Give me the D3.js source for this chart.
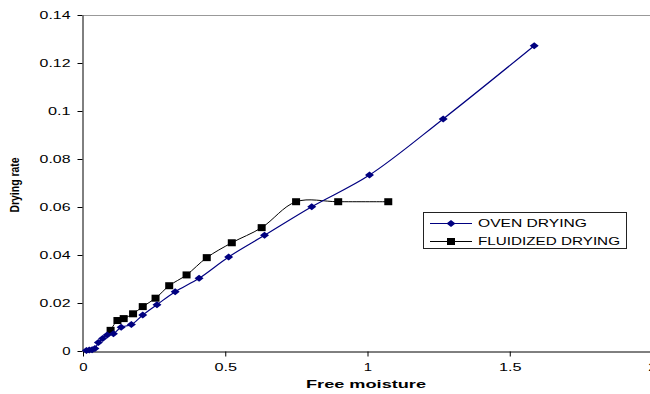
<!DOCTYPE html>
<html>
<head>
  <meta charset="UTF-8">
  <script src="https://d3js.org/d3.v7.min.js"></script>
  <style>
    body { margin:0; background:#fff; }
    text { font-family: Arial, "Liberation Sans", sans-serif; }
  </style>
</head>
<body>
  <svg width="650" height="394"></svg>
  <script>
    // values
    var ovenX = [0.012, 0.022, 0.032, 0.042, 0.054, 0.069, 0.085, 0.107, 0.134, 0.17,
                 0.21, 0.26, 0.324, 0.408, 0.512, 0.638, 0.804, 1.007, 1.266, 1.586];
    var ovenY = [0.0002, 0.0004, 0.0005, 0.001, 0.0035, 0.0052, 0.0067, 0.0072, 0.0099, 0.011,
                 0.015, 0.0193, 0.0247, 0.0303, 0.0392, 0.0482, 0.0601, 0.0733, 0.0967, 0.1272];
    var fluidX = [0.097, 0.121, 0.143, 0.176, 0.21, 0.255, 0.303, 0.364, 0.435, 0.523,
                  0.628, 0.749, 0.897, 1.073];
    var fluidY = [0.0086, 0.0127, 0.0135, 0.0155, 0.0185, 0.022, 0.0272, 0.0317, 0.0389, 0.0451,
                  0.0514, 0.0622, 0.0622, 0.0622];
    var xTicks = [0, 0.5, 1, 1.5, 2];
    var yTicks = [0, 0.02, 0.04, 0.06, 0.08, 0.1, 0.12, 0.14];
    var seriesNames = ["OVEN DRYING", "FLUIDIZED DRYING"];

    var svg = d3.select("svg");

    var x = d3.scaleLinear().domain([0, 2]).range([83, 652]);
    var y = d3.scaleLinear().domain([0, 0.14]).range([351, 15]);

    // rough width of the stretched labels
    function labelWidth(s) {
      var w = 0;
      for (var i = 0; i < s.length; i++) w += s[i] == "." ? 6 : 8.3;
      return w;
    }

    // top border of plot area
    svg.append("line")
      .attr("x1", 83).attr("x2", 650)
      .attr("y1", 15.5).attr("y2", 15.5)
      .attr("stroke", "#999").attr("stroke-width", 1);

    var xAxis = svg.append("g")
      .attr("transform", "translate(0,351.5)")
      .call(d3.axisBottom(x).tickValues(xTicks).tickSize(5).tickSizeOuter(0)
        .tickFormat(function(d) { return String(d); }));
    var yAxis = svg.append("g")
      .attr("transform", "translate(82.5,0)")
      .call(d3.axisLeft(y).tickValues(yTicks).tickSize(5).tickSizeOuter(0)
        .tickFormat(function(d) { return String(d); }));

    [xAxis, yAxis].forEach(function(g) {
      g.select(".domain").attr("stroke", "#000");
      g.selectAll(".tick line").attr("stroke", "#000");
      g.selectAll(".tick text")
        .attr("fill", "#000")
        .style("font-size", "11px")
        .attr("textLength", function(d) { return labelWidth(String(d)); })
        .attr("lengthAdjust", "spacingAndGlyphs");
    });
    xAxis.selectAll(".tick text").attr("y", 12);
    yAxis.selectAll(".tick text").attr("x", -12);

    // axis titles
    svg.append("text")
      .attr("x", 366).attr("y", 388)
      .attr("text-anchor", "middle")
      .style("font-size", "11px").style("font-weight", "bold")
      .attr("textLength", 120).attr("lengthAdjust", "spacingAndGlyphs")
      .text("Free moisture");
    svg.append("text")
      .attr("transform", "translate(19,185) rotate(-90)")
      .attr("text-anchor", "middle")
      .style("font-size", "13px").style("font-weight", "bold")
      .attr("textLength", 55).attr("lengthAdjust", "spacingAndGlyphs")
      .text("Drying rate");

    var oven = ovenX.map(function(v, i) { return [v, ovenY[i]]; });
    var fluid = fluidX.map(function(v, i) { return [v, fluidY[i]]; });

    var line = d3.line()
      .x(function(d) { return x(d[0]); })
      .y(function(d) { return y(d[1]); })
      .curve(d3.curveCatmullRom);

    svg.append("path").datum(fluid)
      .attr("d", line).attr("fill", "none")
      .attr("stroke", "#000").attr("stroke-width", 1);
    svg.append("path").datum(oven)
      .attr("d", line).attr("fill", "none")
      .attr("stroke", "#000080").attr("stroke-width", 1.2);

    function diamond(cx, cy) {
      return "M" + (cx - 4.5) + "," + cy + "L" + cx + "," + (cy - 3.5) +
             "L" + (cx + 4.5) + "," + cy + "L" + cx + "," + (cy + 3.5) + "Z";
    }

    svg.append("g").selectAll("rect")
      .data(fluid).enter().append("rect")
      .attr("x", function(d) { return x(d[0]) - 4; })
      .attr("y", function(d) { return y(d[1]) - 3.5; })
      .attr("width", 8).attr("height", 7)
      .attr("fill", "#000");

    svg.append("g").selectAll("path")
      .data(oven).enter().append("path")
      .attr("d", function(d) { return diamond(x(d[0]), y(d[1])); })
      .attr("fill", "#000080");

    // legend
    var lg = svg.append("g");
    lg.append("rect")
      .attr("x", 423.5).attr("y", 212.5)
      .attr("width", 203).attr("height", 36)
      .attr("fill", "#fff").attr("stroke", "#222");
    var rowsY = [223, 241];
    var lens = [109, 142];
    seriesNames.forEach(function(name, i) {
      var col = i == 0 ? "#000080" : "#000";
      lg.append("line")
        .attr("x1", 430).attr("x2", 472)
        .attr("y1", rowsY[i] + 0.5).attr("y2", rowsY[i] + 0.5)
        .attr("stroke", col);
      if (i == 0) {
        lg.append("path").attr("d", diamond(451, rowsY[i] + 0.5)).attr("fill", col);
      } else {
        lg.append("rect").attr("x", 447).attr("y", rowsY[i] - 3)
          .attr("width", 8).attr("height", 7).attr("fill", col);
      }
      lg.append("text")
        .attr("x", 478).attr("y", rowsY[i] + 4)
        .style("font-size", "10.5px")
        .attr("textLength", lens[i]).attr("lengthAdjust", "spacingAndGlyphs")
        .text(name);
    });
  </script>
</body>
</html>
